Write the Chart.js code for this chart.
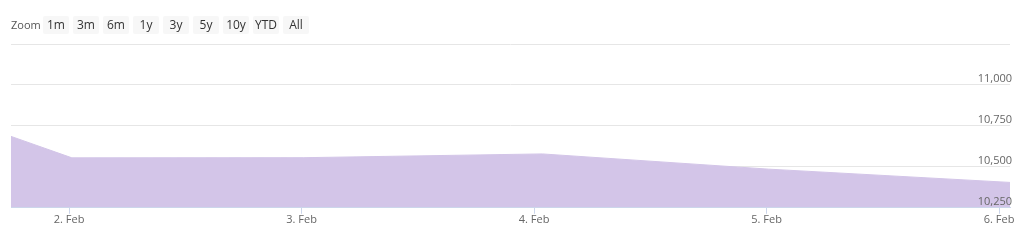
<!DOCTYPE html>
<html>
<head>
<meta charset="utf-8">
<script src="https://cdn.jsdelivr.net/npm/chart.js@4"></script>
<style>
  html, body { margin: 0; padding: 0; background: #fff; }
  #wrap { position: relative; width: 1024px; height: 243px; }
  #chart { position: absolute; left: 0; top: 0; }
  .zoom-label { position: absolute; left: 11px; top: 17px; font: 11px "Open Sans", sans-serif; color: #555; line-height: 16px; }
  .btn { position: absolute; top: 16px; width: 26px; height: 18px; background: #f7f7f7; border-radius: 2px;
         font: 12px "Open Sans", sans-serif; color: #333; text-align: center; line-height: 18px; }
</style>
</head>
<body>
<div id="wrap">
  <canvas id="chart" width="1024" height="243"></canvas>
  <div class="zoom-label">Zoom</div>
  <div id="buttons"></div>
</div>
<script>
// range selector buttons
const zoomButtons = ["1m", "3m", "6m", "1y", "3y", "5y", "10y", "YTD", "All"];

// series: x in days of February, y = value
const xDays = [1.75, 2.012, 3.01, 4.035, 5.01, 6.047];
const values = [10686, 10555, 10556, 10579, 10486, 10405];

// axis ticks
const xTicks = [2, 3, 4, 5, 6];
const xTickLabels = ["2. Feb", "3. Feb", "4. Feb", "5. Feb", "6. Feb"];
const yTicks = [10250, 10500, 10750, 11000, 11250];
const yTickLabels = ["10,250", "10,500", "10,750", "11,000", ""];

const holder = document.getElementById("buttons");
zoomButtons.forEach((b, i) => {
  const el = document.createElement("div");
  el.className = "btn";
  el.style.left = (43 + i * 30) + "px";
  el.innerText = b;
  holder.appendChild(el);
});

const font = { family: "'Open Sans', sans-serif", size: 11 };

new Chart(document.getElementById("chart"), {
  type: "line",
  data: {
    datasets: [{
      data: xDays.map((x, i) => ({ x, y: values[i] })),
      fill: "start",
      backgroundColor: "rgb(211,197,232)",
      borderColor: "rgb(211,197,232)",
      borderWidth: 1,
      pointRadius: 0,
      tension: 0
    }]
  },
  options: {
    responsive: false,
    animation: false,
    layout: { padding: { left: 11, right: 10, top: 44, bottom: 18 } },
    plugins: { legend: { display: false }, tooltip: { enabled: false } },
    scales: {
      x: {
        type: "linear",
        min: xDays[0],
        max: xDays[xDays.length - 1],
        afterBuildTicks: (s) => { s.ticks = xTicks.map(v => ({ value: v })); },
        grid: { drawOnChartArea: false, drawTicks: true, tickLength: 6, tickColor: "#ccd6eb" },
        border: { display: true, color: "#ccd6eb", z: 1 },
        ticks: {
          color: "#666",
          font,
          padding: -1,
          maxRotation: 0,
          callback: (v) => xTickLabels[xTicks.indexOf(v)]
        }
      },
      y: {
        position: "right",
        min: yTicks[0],
        max: yTicks[yTicks.length - 1],
        afterBuildTicks: (s) => { s.ticks = yTicks.map(v => ({ value: v })); },
        grid: { color: "#e6e6e6", drawTicks: false },
        border: { display: false },
        ticks: {
          z: 1,
          mirror: true,
          padding: 2,
          labelOffset: -6,
          color: "#666",
          font,
          callback: (v) => yTickLabels[yTicks.indexOf(v)]
        }
      }
    }
  }
});
</script>
</body>
</html>
